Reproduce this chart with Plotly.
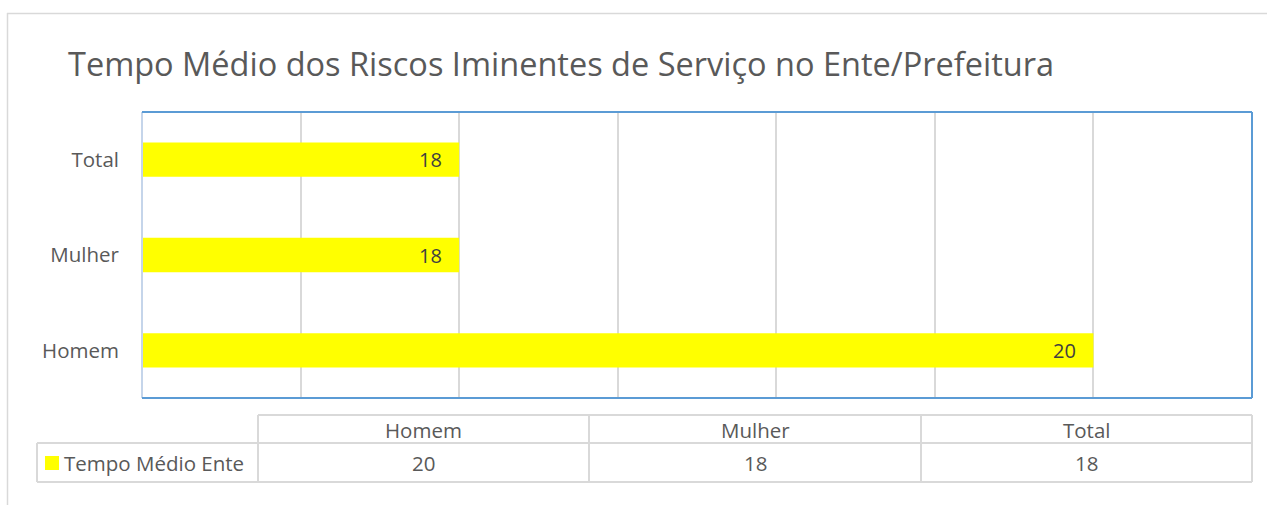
import plotly.graph_objects as go

# Series data
categories = ["Homem", "Mulher", "Total"]
tempo_medio = [20, 18, 18]
series_name = "Tempo Médio Ente"
title_text = "Tempo Médio dos Riscos Iminentes de Serviço no Ente/Prefeitura"

W, H = 1267, 505
L, R, T, B = 142, 1252, 112, 398  # plot area in pixels

FONT = "Open Sans"
TEXT_GRAY = "#595959"
GRID = "#D9D9D9"
BLUE = "#5B9BD5"
YELLOW = "#FFFF00"


def px(x):
    return (x - L) / (R - L)


def py(y):
    return (B - y) / (B - T)


fig = go.Figure()
fig.add_trace(go.Bar(
    y=categories,
    x=tempo_medio,
    orientation="h",
    marker=dict(color=YELLOW, line=dict(width=0)),
    width=0.36,
    name=series_name,
    showlegend=False,
    hoverinfo="x+y",
))

shapes = []
annotations = []


def hline(x0, x1, y, color=GRID, w=2):
    shapes.append(dict(type="line", xref="paper", yref="paper",
                       x0=px(x0), x1=px(x1), y0=py(y), y1=py(y),
                       line=dict(color=color, width=w)))


def vline(x, y0, y1, color=GRID, w=2):
    shapes.append(dict(type="line", xref="paper", yref="paper",
                       x0=px(x), x1=px(x), y0=py(y0), y1=py(y1),
                       line=dict(color=color, width=w)))


# outer chart frame
vline(7.5, 13, 505, w=1.5)
hline(7, 1267, 13.5, w=1.5)

# plot area border
vline(L, T, B, color="#C5D5EA", w=2)
hline(L, R, T, color=BLUE, w=2)
hline(L, R, B, color=BLUE, w=2)
vline(R, T, B, color=BLUE, w=2)

# value labels at the end of each bar
for c, v in zip(categories, tempo_medio):
    annotations.append(dict(x=v, y=c, xref="x", yref="y", text=str(v),
                            showarrow=False, xanchor="right", xshift=-15,
                            font=dict(family=FONT, size=20, color="#404040")))

# data table below the chart
col_edges = [258, 589, 921, 1252]
hdr_top, row_mid, row_bot = 415, 443, 482
hline(col_edges[0], col_edges[-1], hdr_top)
hline(37, col_edges[-1], row_mid)
hline(37, col_edges[-1], row_bot)
vline(37, row_mid, row_bot)
for xe in col_edges:
    vline(xe, hdr_top, row_bot)

TABLE_SIZE = 20.5
for i, (c, v) in enumerate(zip(categories, tempo_medio)):
    xc = (col_edges[i] + col_edges[i + 1]) / 2
    annotations.append(dict(x=px(xc), y=py(430), xref="paper", yref="paper",
                            text=c, showarrow=False, xanchor="center", yanchor="middle",
                            font=dict(family=FONT, size=TABLE_SIZE, color=TEXT_GRAY)))
    annotations.append(dict(x=px(xc), y=py(463), xref="paper", yref="paper",
                            text=str(v), showarrow=False, xanchor="center", yanchor="middle",
                            font=dict(family=FONT, size=TABLE_SIZE, color=TEXT_GRAY)))

# legend key in the table
shapes.append(dict(type="rect", xref="paper", yref="paper",
                   x0=px(45), x1=px(59), y0=py(470), y1=py(456),
                   fillcolor=YELLOW, line=dict(width=0)))
annotations.append(dict(x=px(62), y=py(463), xref="paper", yref="paper",
                        text=series_name, showarrow=False, xanchor="left", yanchor="middle",
                        font=dict(family=FONT, size=TABLE_SIZE, color=TEXT_GRAY)))

# chart title
annotations.append(dict(x=px(66), y=py(64), xref="paper", yref="paper",
                        text=title_text, showarrow=False, xanchor="left", yanchor="middle",
                        font=dict(family=FONT, size=32.5, color=TEXT_GRAY)))

fig.update_layout(
    width=W, height=H,
    margin=dict(l=L, r=W - R, t=T, b=H - B, pad=0),
    paper_bgcolor="white",
    plot_bgcolor="white",
    font=dict(family=FONT, color=TEXT_GRAY),
    xaxis=dict(range=[17, 20.5], dtick=0.5, tick0=17, showticklabels=False,
               showgrid=True, gridcolor=GRID, gridwidth=2, zeroline=False,
               showline=False, ticks="", fixedrange=True),
    yaxis=dict(showgrid=False, zeroline=False, showline=False, ticks="",
               ticklabelstandoff=22, tickfont=dict(family=FONT, size=20.5, color=TEXT_GRAY),
               fixedrange=True),
    shapes=shapes,
    annotations=annotations,
    bargap=0.64,
)

fig.write_html("out.html", config={"displayModeBar": False})
